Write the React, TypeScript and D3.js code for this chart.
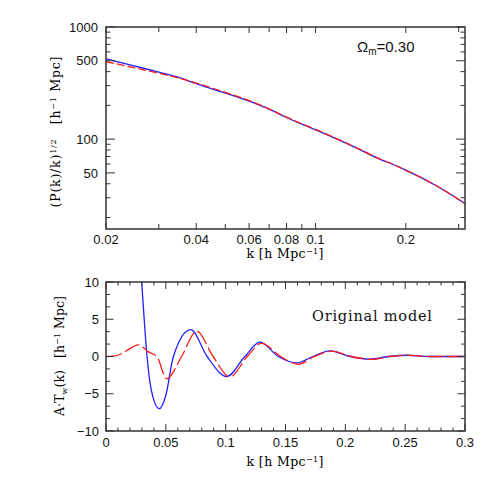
import React from "react";
import * as d3 from "d3";

// top panel: sqrt(P(k)/k), log-log
const topK = [0.02, 0.025, 0.03, 0.035, 0.04, 0.05, 0.06, 0.07, 0.08, 0.09, 0.1, 0.12, 0.14, 0.16, 0.18, 0.2, 0.25, 0.315];
const topBlue = [520, 448, 396, 355, 312, 257, 218, 185, 156, 136, 121, 98, 81, 68, 60, 53, 39, 26.7];
const topRed = [490, 432, 387, 350, 316, 261, 221, 186, 157, 137, 122, 98.5, 81.5, 68.5, 60, 52.7, 39.2, 26.5];

// bottom panel: A*T_w(k)
const botKBlue = [0.026, 0.0298, 0.032, 0.0343, 0.038, 0.0446, 0.05, 0.0563, 0.0708, 0.0845, 0.1009, 0.116, 0.1287, 0.144, 0.159, 0.173, 0.187, 0.204, 0.2206, 0.236, 0.251, 0.27, 0.3];
const botBlue = [22, 10, 4.8, 0, -4.6, -7.0, -5.2, 0, 3.6, 0, -2.7, 0, 1.93, 0, -0.86, 0, 0.76, 0, -0.36, 0, 0.17, 0, 0];
const botKRed = [0, 0.006, 0.012, 0.018, 0.027, 0.0355, 0.0425, 0.0507, 0.0632, 0.0758, 0.0895, 0.1036, 0.118, 0.130, 0.146, 0.1607, 0.174, 0.189, 0.205, 0.222, 0.237, 0.252, 0.27, 0.3];
const botRed = [0, 0.05, 0.3, 0.85, 1.57, 0.62, 0, -3.0, 0, 3.4, 0, -2.75, 0, 1.75, 0, -1.04, 0, 0.72, 0, -0.38, 0, 0.18, 0, 0];

const topXLabels = [0.02, 0.04, 0.06, 0.08, 0.1, 0.2];
const topXMinor = [0.03, 0.05, 0.07, 0.09, 0.3];
const topYLabels = [1000, 500, 100, 50];
const topYMinor = [20, 30, 40, 60, 70, 80, 90, 200, 300, 400, 600, 700, 800, 900];
const botXLabels = [0, 0.05, 0.1, 0.15, 0.2, 0.25, 0.3];
const botYLabels = [-10, -5, 0, 5, 10];

const W = 491;
const H = 491;
const L = 106;
const R = 465;
const frame = "#333";
const numFont = "'Liberation Sans', Arial, sans-serif";
const txtFont = "'DejaVu Serif', serif";

const tx = d3.scaleLog().domain([0.02, 0.315]).range([L, R]);
const ty = d3.scaleLog().domain([15.8, 1000]).range([229, 27]);
const bx = d3.scaleLinear().domain([0, 0.3]).range([L, R]);
const by = d3.scaleLinear().domain([-10, 10]).range([431, 282]);

function fmt(v: number) {
  return v < 0 ? "\u2212" + String(-v) : String(v);
}

function xTicks(vals: number[], sx: (v: number) => number, top: number, bot: number, len: number, key: string) {
  return vals.map((v, i) => (
    <g key={key + i}>
      <line x1={sx(v)} x2={sx(v)} y1={bot} y2={bot - len} stroke={frame} strokeWidth={1} />
      <line x1={sx(v)} x2={sx(v)} y1={top} y2={top + len} stroke={frame} strokeWidth={1} />
    </g>
  ));
}

function yTicks(vals: number[], sy: (v: number) => number, len: number, key: string) {
  return vals.map((v, i) => (
    <g key={key + i}>
      <line x1={L} x2={L + len} y1={sy(v)} y2={sy(v)} stroke={frame} strokeWidth={1} />
      <line x1={R} x2={R - len} y1={sy(v)} y2={sy(v)} stroke={frame} strokeWidth={1} />
    </g>
  ));
}

export default function App() {
  const topLine = (vals: number[]) =>
    d3.line<number>().x((_, i) => tx(topK[i])).y((d) => ty(d)).curve(d3.curveMonotoneX)(vals) || "";
  const botLine = (ks: number[], vals: number[]) =>
    d3.line<number>().x((_, i) => bx(ks[i])).y((d) => by(d)).curve(d3.curveMonotoneX)(vals) || "";

  const tickText = { fontFamily: numFont, fontSize: 13, fill: "#111" } as const;

  return (
    <svg width={W} height={H} style={{ position: "absolute", left: 0, top: 0, background: "#fff" }}>
      <defs>
        <clipPath id="clipTop">
          <rect x={L} y={27} width={R - L} height={202} />
        </clipPath>
        <clipPath id="clipBot">
          <rect x={L} y={282} width={R - L} height={149} />
        </clipPath>
      </defs>

      {/* top panel */}
      <g clipPath="url(#clipTop)">
        <path d={topLine(topBlue)} fill="none" stroke="#2020ff" strokeWidth={1.3} />
        <path d={topLine(topRed)} fill="none" stroke="#ff1a1a" strokeWidth={1.3} strokeDasharray="8,3" />
      </g>
      {xTicks(topXLabels, tx, 27, 229, 6, "txl")}
      {xTicks(topXMinor, tx, 27, 229, 5, "txm")}
      {yTicks(topYLabels, ty, 9, "tyl")}
      {yTicks(topYMinor, ty, 4.5, "tym")}
      <rect x={L} y={27} width={R - L} height={202} fill="none" stroke={frame} strokeWidth={1.5} />
      {topXLabels.map((v, i) => (
        <text key={"txt" + i} x={tx(v)} y={244} textAnchor="middle" {...tickText}>
          {String(v)}
        </text>
      ))}
      {topYLabels.map((v, i) => (
        <text key={"tyt" + i} x={98} y={ty(v)} dy="0.36em" textAnchor="end" {...tickText}>
          {String(v)}
        </text>
      ))}
      <text x={285} y={258} textAnchor="middle" fontFamily={txtFont} fontSize={12.5} textLength={77} lengthAdjust="spacing">
        k [h Mpc<tspan dy={-4} fontSize={8}>−1</tspan>
        <tspan dy={4}>]</tspan>
      </text>
      <text transform="translate(60,132) rotate(-90)" textAnchor="middle" fontFamily={txtFont} fontSize={12.5} textLength={151} lengthAdjust="spacing">
        (P(k)/k)<tspan dy={-4} fontSize={8}>1/2</tspan>
        <tspan dy={4} xmlSpace="preserve">{"   [h"}</tspan>
        <tspan dy={-4} fontSize={8}>−1</tspan>
        <tspan dy={4}> Mpc]</tspan>
      </text>
      <text x={357} y={52} fontFamily={numFont} fontSize={15} fill="#111">
        Ω<tspan dy={3} fontSize={10}>m</tspan>
        <tspan dy={-3}>=0.30</tspan>
      </text>

      {/* bottom panel */}
      <g clipPath="url(#clipBot)">
        <path d={botLine(botKBlue, botBlue)} fill="none" stroke="#2020ff" strokeWidth={1.3} />
        <path d={botLine(botKRed, botRed)} fill="none" stroke="#ff1a1a" strokeWidth={1.3} strokeDasharray="16,4" />
      </g>
      {xTicks(d3.range(0, 31).map((i) => i / 100).filter((_, i) => i % 5 !== 0), bx, 282, 431, 3.5, "bxm")}
      {xTicks(botXLabels, bx, 282, 431, 7, "bxl")}
      {yTicks(d3.range(0, 13).map((i) => -10 + (i * 5) / 3).filter((_, i) => i % 3 !== 0), by, 4, "bym")}
      {yTicks(botYLabels, by, 7.5, "byl")}
      <rect x={L} y={282} width={R - L} height={149} fill="none" stroke={frame} strokeWidth={1.5} />
      {botXLabels.map((v, i) => (
        <text key={"bxt" + i} x={bx(v)} y={447} textAnchor="middle" {...tickText}>
          {String(v)}
        </text>
      ))}
      {botYLabels.map((v, i) => (
        <text key={"byt" + i} x={99} y={by(v)} dy="0.36em" textAnchor="end" {...tickText}>
          {fmt(v)}
        </text>
      ))}
      <text x={285} y={466} textAnchor="middle" fontFamily={txtFont} fontSize={12.5} textLength={77} lengthAdjust="spacing">
        k [h Mpc<tspan dy={-4} fontSize={8}>−1</tspan>
        <tspan dy={4}>]</tspan>
      </text>
      <text transform="translate(64,356) rotate(-90)" textAnchor="middle" fontFamily={txtFont} fontSize={12.5} textLength={120} lengthAdjust="spacing">
        A·T<tspan dy={3} fontSize={8}>w</tspan>
        <tspan dy={-3} xmlSpace="preserve">{"(k)   [h"}</tspan>
        <tspan dy={-4} fontSize={8}>−1</tspan>
        <tspan dy={4}> Mpc]</tspan>
      </text>
      <text x={312} y={321} fontFamily={txtFont} fontSize={14.5} letterSpacing={0.8} fill="#111">
        Original model
      </text>
    </svg>
  );
}
